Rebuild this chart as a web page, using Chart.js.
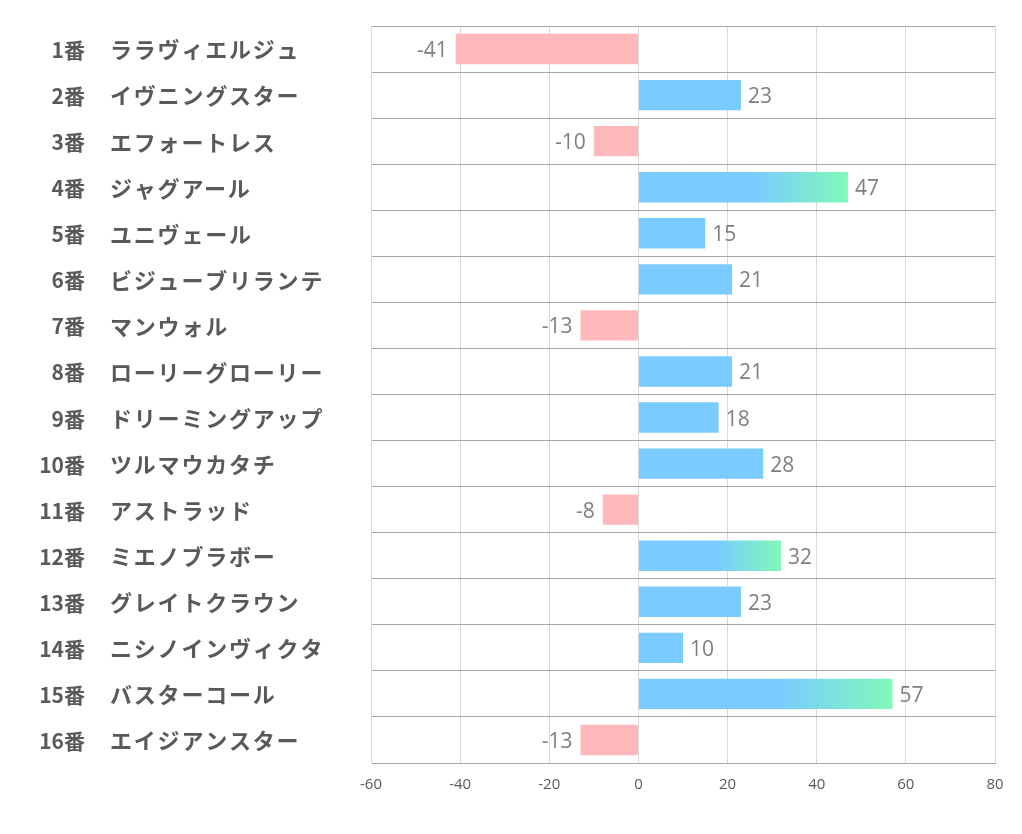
<!DOCTYPE html>
<html>
<head>
<meta charset="utf-8">
<script src="https://cdn.jsdelivr.net/npm/chart.js@4.4.1/dist/chart.umd.min.js"></script>
<style>
html,body{margin:0;padding:0;background:#fff;}
#wrap{width:1022px;height:834px;position:relative;}
</style>
</head>
<body>
<div id="wrap"><canvas id="c" width="1022" height="834"></canvas></div>
<script>
const numbers = ["1番","2番","3番","4番","5番","6番","7番","8番","9番","10番","11番","12番","13番","14番","15番","16番"];
const names = ["ララヴィエルジュ","イヴニングスター","エフォートレス","ジャグアール","ユニヴェール","ビジューブリランテ","マンウォル","ローリーグローリー","ドリーミングアップ","ツルマウカタチ","アストラッド","ミエノブラボー","グレイトクラウン","ニシノインヴィクタ","バスターコール","エイジアンスター"];
const values = [-41,23,-10,47,15,21,-13,21,18,28,-8,32,23,10,57,-13];
const xTicks = [-60,-40,-20,0,20,40,60,80];

const BLUE = '#7ACBFF', PINK = '#FFB8BB', GREEN = '#80F9B8';

function barColor(ctx) {
  const v = ctx.raw;
  if (v < 0) return PINK;
  if (v <= 30) return BLUE;
  const chart = ctx.chart;
  const xs = chart.scales.x;
  if (!xs) return BLUE;
  const x0 = xs.getPixelForValue(0), x1 = xs.getPixelForValue(v);
  const g = chart.ctx.createLinearGradient(x0, 0, x1, 0);
  g.addColorStop(0, BLUE);
  g.addColorStop(0.55, BLUE);
  g.addColorStop(1, GREEN);
  return g;
}

const sideLabels = {
  id: 'sideLabels',
  afterDraw(chart) {
    const c = chart.ctx, ys = chart.scales.y;
    c.save();
    c.fillStyle = '#595959';
    c.textBaseline = 'middle';
    numbers.forEach((n, i) => {
      const y = ys.getPixelForValue(i) + 1;
      c.font = 'bold 21px "Noto Sans CJK JP", "Noto Sans", sans-serif';
      c.letterSpacing = '0px';
      c.textAlign = 'right';
      c.fillText(n, 85, y);
      c.font = 'bold 22px "Noto Sans CJK JP", "Noto Sans", sans-serif';
      c.letterSpacing = '1.8px';
      c.textAlign = 'left';
      c.fillText(names[i], 110, y);
    });
    c.letterSpacing = '0px';
    c.restore();
  }
};

const valueLabels = {
  id: 'valueLabels',
  afterDatasetsDraw(chart) {
    const c = chart.ctx;
    const meta = chart.getDatasetMeta(0);
    c.save();
    c.font = '21px "Open Sans", "Noto Sans", sans-serif';
    c.fillStyle = '#7F7F7F';
    c.textBaseline = 'middle';
    meta.data.forEach((bar, i) => {
      const v = values[i];
      if (v < 0) {
        c.textAlign = 'right';
        c.fillText(String(v), bar.x - 8, bar.y + 2);
      } else {
        c.textAlign = 'left';
        c.fillText(String(v), bar.x + 7, bar.y + 2);
      }
    });
    c.restore();
  }
};

new Chart(document.getElementById('c'), {
  type: 'bar',
  data: {
    labels: numbers.map((n, i) => n + '　' + names[i]),
    datasets: [{
      data: values,
      backgroundColor: barColor,
      borderWidth: 0,
      categoryPercentage: 1,
      barPercentage: 0.66
    }]
  },
  options: {
    indexAxis: 'y',
    responsive: false,
    animation: false,
    devicePixelRatio: 1,
    layout: { padding: { top: 26, right: 27, left: 0, bottom: 0 } },
    plugins: { legend: { display: false }, tooltip: { enabled: false } },
    scales: {
      x: {
        min: -60, max: 80,
        afterBuildTicks(scale) { scale.ticks = xTicks.map(v => ({ value: v })); },
        afterFit(scale) { scale.height = 834 - 763; },
        grid: { color: '#D9D9D9', drawTicks: false, lineWidth: 1 },
        border: { display: true, color: '#A6A6A6' },
        ticks: { color: '#595959', font: { size: 15, family: '"Open Sans", "Noto Sans", sans-serif' }, padding: 13 }
      },
      y: {
        afterFit(scale) { scale.width = 371; },
        grid: { color: '#A6A6A6', offset: true, drawTicks: false, lineWidth: 1 },
        border: { display: true, color: '#D9D9D9' },
        ticks: { display: false }
      }
    }
  },
  plugins: [sideLabels, valueLabels]
});
</script>
</body>
</html>
